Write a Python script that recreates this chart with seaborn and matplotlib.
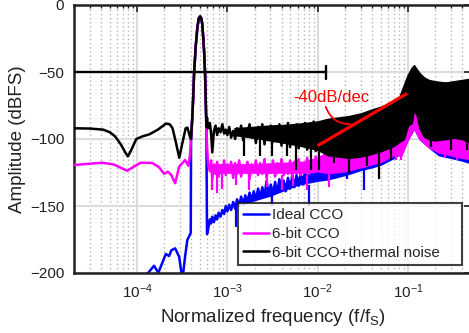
import matplotlib
matplotlib.use("Agg")
import matplotlib.pyplot as plt
import seaborn as sns
from matplotlib.ticker import LogLocator, FixedLocator, NullFormatter

# ---------------- data ----------------
series_names = ["Ideal CCO", "6-bit CCO", "6-bit CCO+thermal noise"]
series_colors = ["#0000ff", "#ff00ff", "#000000"]

# shared signal tone peak
peak_f = [3.96e-4, 4.08e-4, 4.17e-4, 4.28e-4, 4.46e-4, 4.65e-4, 4.82e-4, 4.99e-4,
          5.15e-4, 5.29e-4, 5.52e-4, 5.66e-4, 5.76e-4, 5.85e-4]
peak_db = [-100, -85, -71, -51, -31, -17, -10, -8.5, -10, -15, -34, -51, -71, -91]

# frequency grid of the noisy mid-band section (6e-4 .. 1e-2)
noise_f = [6.1e-4, 6.4e-4, 6.6e-4, 6.8e-4, 7.1e-4, 7.4e-4, 7.7e-4, 8.0e-4, 8.4e-4,
           8.8e-4, 9.2e-4, 9.6e-4, 1.0e-3, 1.05e-3, 1.1e-3, 1.16e-3, 1.22e-3, 1.28e-3,
           1.35e-3, 1.42e-3, 1.5e-3, 1.58e-3, 1.67e-3, 1.76e-3, 1.86e-3, 1.96e-3,
           2.07e-3, 2.19e-3, 2.31e-3, 2.44e-3, 2.58e-3, 2.72e-3, 2.87e-3, 3.03e-3,
           3.2e-3, 3.38e-3, 3.57e-3, 3.77e-3, 3.98e-3, 4.2e-3, 4.44e-3, 4.69e-3,
           4.95e-3, 5.23e-3, 5.52e-3, 5.83e-3, 6.16e-3, 6.5e-3, 6.87e-3, 7.25e-3,
           7.66e-3, 8.09e-3, 8.54e-3, 9.02e-3, 9.53e-3, 1.0e-2]

# Ideal CCO (blue)
ideal_left_f = [1.15e-4, 1.54e-4, 1.72e-4, 2.08e-4, 2.26e-4, 2.40e-4, 2.64e-4, 2.92e-4,
                3.18e-4, 3.40e-4, 3.60e-4, 3.93e-4]
ideal_left_db = [-205, -194.6, -199.8, -185.8, -187.3, -183, -181.6, -187.8,
                 -205, -187.8, -175.4, -170]
ideal_after_peak_db = [-171]
ideal_noise_db = [-168, -160, -163, -158, -162, -157, -160, -155, -158, -153, -156, -150,
                  -154, -149, -153, -147, -152, -145, -150, -143, -149, -142, -147, -140,
                  -146, -139, -145, -137, -144, -136, -143, -131, -142, -134, -141, -132,
                  -140, -130, -138, -131, -139, -129, -137, -128, -136, -127, -135, -126,
                  -134, -124, -133, -125, -132, -123, -131, -122]
ideal_band_f = [1.5e-3, 3.0e-3, 6.0e-3, 1.0e-2, 1.3e-2, 1.7e-2, 2.2e-2, 3.0e-2, 4.0e-2,
                5.0e-2, 7.0e-2, 8.5e-2, 1.0e-1, 1.17e-1, 1.35e-1, 1.7e-1, 2.2e-1, 3.0e-1,
                4.0e-1, 5.0e-1]
ideal_band_hi = [-145, -138, -129, -124, -120, -118, -115, -110, -102, -94, -80, -70,
                 -56, -47, -53, -57, -58, -58, -57, -56]
ideal_band_lo = [-148, -142, -134, -131, -130, -128, -126, -123, -121, -119, -114, -110,
                 -100, -92, -100, -106, -112, -114, -116, -118]
ideal_spike_f = [1.25e-3, 3.1e-3, 8.0e-3, 2.1e-2, 3.27e-2]
ideal_spike_top = [-148, -140, -134, -124, -122]
ideal_spike_bot = [-166, -150, -150, -130, -138]

# 6-bit CCO (magenta)
cco_left_f = [2.0e-5, 4.1e-5, 5.5e-5, 6.6e-5, 7.8e-5, 9.0e-5, 1.1e-4, 1.47e-4, 1.75e-4,
              1.99e-4, 2.2e-4, 2.4e-4, 2.64e-4, 2.92e-4, 3.4e-4, 3.7e-4, 3.85e-4]
cco_left_db = [-119.4, -117.7, -119, -121.5, -123.7, -121, -117.7, -117.9, -121,
               -126, -124.4, -127, -133, -120.7, -115.7, -120, -112]
cco_after_peak_db = [-104]
cco_noise_db = [-118, -124, -116, -130, -119, -126, -117, -128, -120, -125, -116, -127,
                -119, -124, -117, -129, -118, -126, -116, -128, -120, -125, -117, -130,
                -119, -124, -116, -127, -118, -126, -115, -129, -119, -125, -116, -128,
                -118, -124, -115, -127, -119, -126, -116, -128, -117, -125, -115, -127,
                -118, -124, -114, -126, -117, -125, -113, -124]
cco_band_f = [7.0e-4, 1.0e-3, 2.0e-3, 4.0e-3, 7.0e-3, 1.0e-2, 1.2e-2, 1.5e-2, 2.0e-2,
              3.0e-2, 5.0e-2, 7.0e-2, 8.5e-2, 1.0e-1, 1.17e-1, 1.35e-1, 1.7e-1, 2.2e-1,
              3.0e-1, 4.0e-1, 5.0e-1]
cco_band_hi = [-119, -119, -119, -118, -117, -114, -111, -109, -106, -100, -90, -80, -70,
               -56, -47, -53, -57, -58, -58, -57, -56]
cco_band_lo = [-125, -125, -125, -125, -125, -124, -125, -125, -124, -121, -117, -112,
               -112, -100, -92, -100, -106, -110, -112, -114, -115]
cco_spike_f = [6.8e-4, 7.7e-4, 8.75e-4, 1.24e-3, 1.74e-3, 2.75e-3, 4.0e-3, 5.4e-3,
               7.6e-3, 1.33e-2, 7.4e-2, 8.3e-2, 2.6e-1, 3.5e-1]
cco_spike_top = [-125, -125, -125, -126, -127, -127, -127, -127, -127, -124, -110, -108,
                 -110, -112]
cco_spike_bot = [-138, -140, -137, -134, -138, -136, -138, -135, -138, -136, -116, -116,
                 -114, -116]

# 6-bit CCO + thermal noise (black)
th_left_f = [2.0e-5, 3.0e-5, 4.2e-5, 5.0e-5, 5.7e-5, 6.6e-5, 7.4e-5, 7.9e-5, 8.5e-5,
             9.8e-5, 1.15e-4, 1.37e-4, 1.7e-4, 2.09e-4, 2.3e-4, 2.47e-4, 2.7e-4, 2.93e-4,
             3.2e-4, 3.45e-4, 3.61e-4, 3.84e-4]
th_left_db = [-92, -92.2, -93, -95, -98, -104, -110, -113, -109, -100, -98, -96.5, -93,
              -88.5, -89, -92, -103, -114, -102, -92, -91.5, -98]
th_after_peak_db = [-84]
th_noise_db = [-92, -88, -96, -110, -94, -90, -97, -92, -95, -89, -96, -93, -97, -91,
               -99, -94, -100, -92, -97, -90, -101, -93, -96, -89, -99, -92, -103, -91,
               -98, -89, -104, -93, -100, -90, -102, -92, -99, -89, -105, -91, -101, -88,
               -106, -92, -100, -89, -107, -93, -102, -88, -108, -91, -104, -87, -109,
               -90]
th_band_f = [1.2e-3, 2.0e-3, 3.0e-3, 4.5e-3, 6.5e-3, 1.0e-2, 1.3e-2, 1.7e-2, 2.2e-2,
             3.0e-2, 4.0e-2, 5.0e-2, 6.0e-2, 7.0e-2, 8.0e-2, 9.0e-2, 1.0e-1, 1.1e-1,
             1.17e-1, 1.25e-1, 1.35e-1, 1.5e-1, 1.7e-1, 2.0e-1, 2.6e-1, 3.2e-1, 4.0e-1,
             5.0e-1]
th_band_hi = [-92, -91, -90, -89.5, -88.5, -87, -85, -84, -83, -81, -78, -76, -74, -71,
              -69, -60, -52, -47, -45, -48, -51, -54, -56, -57, -58, -57, -56, -55]
th_band_lo = [-97, -99, -101, -103, -105, -108, -112, -113, -114, -113, -111, -109, -107,
              -105, -102, -100, -90, -88, -78, -82, -92, -98, -100, -101, -100, -99,
              -100, -103]
th_spike_f = [1.53e-3, 2.3e-3, 3.1e-3, 4.6e-3, 5.7e-3, 8.4e-3, 1.03e-2, 1.5e-2, 2.2e-2,
              3.5e-2, 4.8e-2, 6.5e-2, 1.8e-1, 3.0e-1, 4.5e-1]
th_spike_top = [-96, -98, -98, -100, -100, -102, -106, -110, -112, -110, -108, -104, -98,
                -98, -100]
th_spike_bot = [-113, -113, -113, -113, -123, -123, -123, -118, -125, -120, -130, -116,
                -106, -108, -108]

# reference markers
bw_level = -50
bw_f = [2.0e-5, 1.23e-2]
bw_cap = [-45.5, -55]
slope_f = [1.0e-2, 9.8e-2]
slope_db = [-105, -66]
slope_label = "-40dB/dec"
slope_text_pos = (1.4e-2, -69)
slope_arc_start = (1.23e-2, -76)
slope_arc_end = (2.33e-2, -89)

xticks = [1e-4, 1e-3, 1e-2, 1e-1]
yticks = [-200, -150, -100, -50, 0]

# ---------------- style ----------------
sns.set_style("white")
plt.rcParams['font.family'] = ['Liberation Sans', 'DejaVu Sans']
plt.rcParams['mathtext.fontset'] = 'custom'
plt.rcParams['mathtext.rm'] = 'Liberation Sans'
plt.rcParams['mathtext.it'] = 'Liberation Sans:italic'
plt.rcParams['mathtext.bf'] = 'Liberation Sans:bold'
plt.rcParams['axes.unicode_minus'] = True

fig = plt.figure(figsize=(4.69, 3.33), dpi=100)
ax = fig.add_axes([74 / 469, 60 / 333, 397 / 469, 268 / 333])
ax.set_xscale('log')

lw = 1.8
groups = [
    (ideal_left_f, ideal_left_db, ideal_after_peak_db, ideal_noise_db, ideal_band_f,
     ideal_band_hi, ideal_band_lo, ideal_spike_f, ideal_spike_top, ideal_spike_bot),
    (cco_left_f, cco_left_db, cco_after_peak_db, cco_noise_db, cco_band_f,
     cco_band_hi, cco_band_lo, cco_spike_f, cco_spike_top, cco_spike_bot),
    (th_left_f, th_left_db, th_after_peak_db, th_noise_db, th_band_f,
     th_band_hi, th_band_lo, th_spike_f, th_spike_top, th_spike_bot),
]
after_peak_f = [5.95e-4]
for i, (lf, ld, ad, nd, bf, bh, bl, sf, st, sb) in enumerate(groups):
    c = series_colors[i]
    z = 2 + i
    xs = lf + peak_f + after_peak_f + noise_f
    ys = ld + peak_db + ad + nd
    sns.lineplot(x=xs, y=ys, color=c, lw=lw, sort=False, estimator=None,
                 label=series_names[i], ax=ax, zorder=z)
    ax.fill_between(bf, bl, bh, color=c, edgecolor=c, lw=1.2, zorder=z)
    ax.vlines(sf, sb, st, color=c, lw=1.6, zorder=z)

# -50 dB reference with end cap
ax.plot(bw_f, [bw_level, bw_level], color='black', lw=1.7, zorder=6)
ax.plot([bw_f[1], bw_f[1]], bw_cap, color='black', lw=1.7, zorder=6)

# slope line and label
ax.plot(slope_f, slope_db, color='#ff0000', lw=2.3, zorder=7, solid_capstyle='butt')
ax.text(slope_text_pos[0], slope_text_pos[1], slope_label, color='#ff0000',
        fontsize=12, ha='center', va='center', zorder=8)
ax.annotate('', xy=slope_arc_end, xytext=slope_arc_start,
            arrowprops=dict(arrowstyle='-', color='#ff0000', lw=1.3,
                            connectionstyle='arc3,rad=0.35', shrinkA=0, shrinkB=0),
            zorder=8)

# axes
ax.set_xlim(2e-5, 0.5)
ax.set_ylim(-200, 0)
ax.xaxis.set_major_locator(FixedLocator(xticks))
ax.xaxis.set_minor_locator(LogLocator(base=10, subs=[2, 3, 4, 5, 6, 7, 8, 9], numticks=20))
ax.xaxis.set_minor_formatter(NullFormatter())
ax.yaxis.set_major_locator(FixedLocator(yticks))

ax.grid(which='major', color='#dcdcdc', lw=1.5, ls='-')
ax.grid(which='minor', axis='x', color='#b4b4b4', lw=1.0, ls=(0, (1, 2)))
ax.set_axisbelow(True)

ax.tick_params(which='both', direction='in', top=True, right=True, colors='#222222')
ax.tick_params(which='major', length=5, width=1.2, labelsize=11)
ax.tick_params(which='minor', length=2.5, width=1.0)
ax.tick_params(axis='x', which='major', pad=7)
ax.tick_params(axis='y', which='major', pad=7)
for s in ax.spines.values():
    s.set_linewidth(1.8)
    s.set_color('#222222')

ax.set_xlabel(r'Normalized frequency (f/f$_\mathrm{S}$)', fontsize=13.5, color='#222222')
ax.set_ylabel('Amplitude (dBFS)', fontsize=13.5, color='#222222')
ax.xaxis.set_label_coords(0.5, -0.125)
ax.yaxis.set_label_coords(-0.12, 0.5)

leg = ax.legend(loc='lower left', bbox_to_anchor=(0.413, 0.03, 0.564, 0.224),
                mode='expand', borderaxespad=0, frameon=True, fancybox=False,
                edgecolor='#111111', fontsize=11, handlelength=1.7, handletextpad=0.2,
                borderpad=0.35, labelspacing=0.3)
leg.get_frame().set_linewidth(1.5)
leg.set_zorder(10)

fig.savefig('out.png', dpi=100)
